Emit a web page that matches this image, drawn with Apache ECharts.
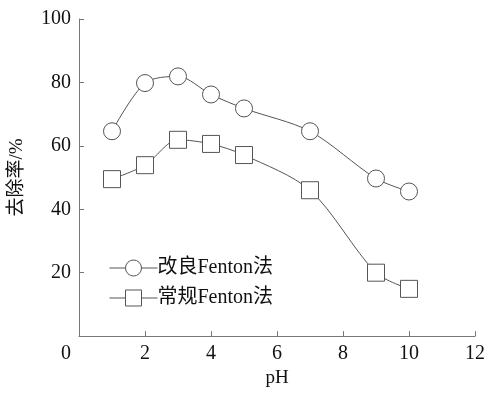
<!DOCTYPE html>
<html><head><meta charset="utf-8">
<script src="https://cdn.jsdelivr.net/npm/echarts@6/dist/echarts.min.js"></script>
<style>html,body{margin:0;padding:0;background:#fff}#c{width:488px;height:393px}</style>
</head><body><div id="c"></div>
<script>
var phValues = [1, 2, 3, 4, 5, 7, 9, 10];
var improvedFenton = [64.6, 79.8, 81.9, 76.2, 71.8, 64.6, 49.7, 45.6];
var conventionalFenton = [49.5, 53.9, 61.9, 60.6, 57.1, 46.0, 20.0, 14.9];
var seriesNames = ['改良Fenton法', '常规Fenton法'];
var xName = 'pH';
var yName = '去除率/%';

var FONT = '"Liberation Serif", "Noto Sans CJK SC", serif';
function pairs(xs, ys){ return xs.map(function(x,i){ return [x, ys[i]]; }); }
var chart = echarts.init(document.getElementById('c'));
chart.setOption({
  animation: false,
  backgroundColor: '#fff',
  grid: {left: 78, right: 13, top: 19, bottom: 51},
  legend: {
    left: 104, top: 253, orient: 'vertical', itemGap: 10,
    itemWidth: 48, itemHeight: 20,
    lineStyle: {width: 1, color: '#555'},
    itemStyle: {borderWidth: 1, borderColor: '#555', color: '#fff'},
    textStyle: {fontFamily: FONT, fontSize: 20, color: '#111', padding: [0,0,0,-5]},
    data: seriesNames
  },
  xAxis: {
    type: 'value', min: 0, max: 12, interval: 2,
    name: xName, nameLocation: 'middle', nameGap: 32,
    nameTextStyle: {fontFamily: FONT, fontSize: 19, color: '#111'},
    axisLine: {lineStyle: {color: '#777', width: 1}},
    axisTick: {inside: true, length: 5, lineStyle: {color: '#777'}},
    splitLine: {show: false},
    axisLabel: {fontFamily: FONT, fontSize: 20, color: '#111', margin: 8,
      formatter: function(v){ return v === 0 ? '{z|0}' : String(v); },
      rich: {z: {fontFamily: FONT, fontSize: 20, color: '#111', padding: [0, 26, 0, 0]}}}
  },
  yAxis: {
    type: 'value', min: 0, max: 100, interval: 20,
    name: yName, nameLocation: 'middle', nameGap: 52,
    nameTextStyle: {fontFamily: FONT, fontSize: 19, color: '#111'},
    axisLine: {lineStyle: {color: '#777', width: 1}},
    axisTick: {inside: true, length: 5, lineStyle: {color: '#777'}},
    splitLine: {show: false},
    axisLabel: {fontFamily: FONT, fontSize: 20, color: '#111', margin: 8,
      formatter: function(v){ return v === 0 ? '' : String(v); }}
  },
  series: [
    {name: seriesNames[0], type: 'line', data: pairs(phValues, improvedFenton),
     smooth: 0.3, symbol: 'circle', symbolSize: 17,
     lineStyle: {color: '#555', width: 1},
     itemStyle: {color: '#fff', borderColor: '#555', borderWidth: 1}},
    {name: seriesNames[1], type: 'line', data: pairs(phValues, conventionalFenton),
     smooth: 0.3, symbol: 'rect', symbolSize: 17,
     lineStyle: {color: '#555', width: 1},
     itemStyle: {color: '#fff', borderColor: '#555', borderWidth: 1}}
  ]
});
</script></body></html>
